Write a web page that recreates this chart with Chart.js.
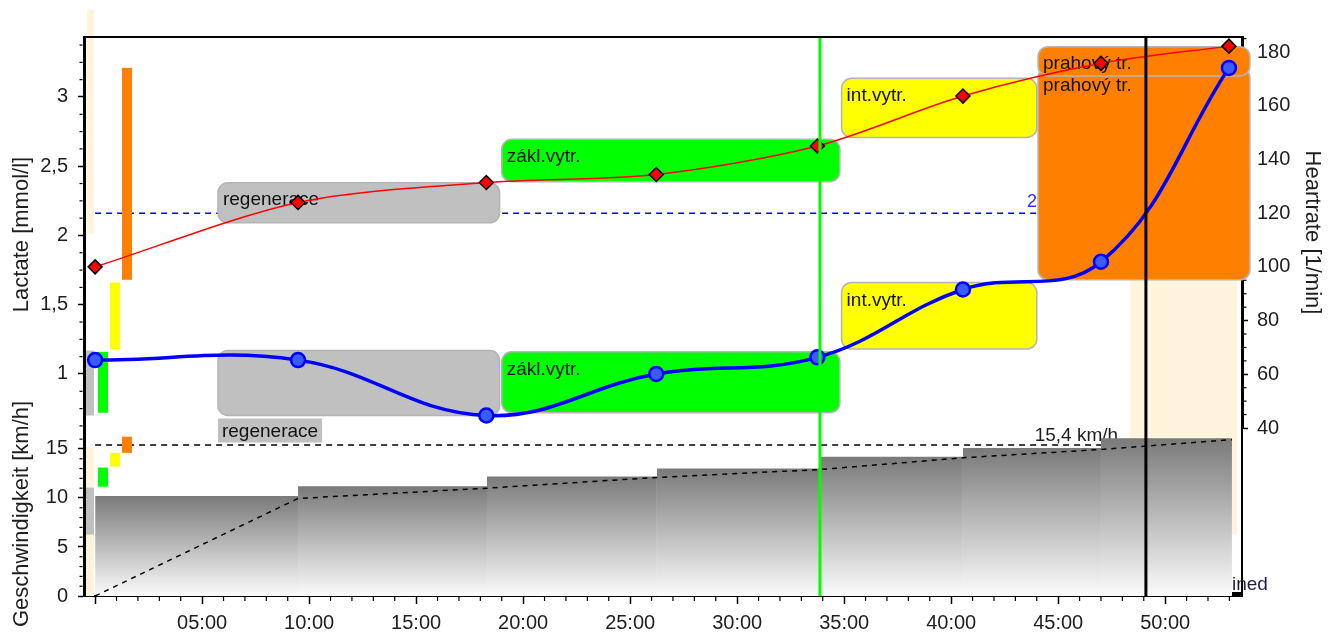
<!DOCTYPE html>
<html>
<head>
<meta charset="utf-8">
<script src="https://cdn.jsdelivr.net/npm/chart.js@4.4.1/dist/chart.umd.min.js"></script>
<style>
  html, body { margin: 0; padding: 0; background: #fff; }
</style>
</head>
<body>
<canvas id="chart" width="1333" height="637"></canvas>
<script>
// measurements (minutes)
const sampleMinutes = [0, 9.48, 18.28, 26.22, 33.75, 40.55, 47.0, 52.98];
const heartRate = [100, 124, 131.4, 134.4, 145, 163.6, 175.8, 182.2];
const lactate = [1.10, 1.10, 0.70, 1.0, 1.12, 1.61, 1.81, 3.21];

// speed steps
const stepFrom = [0, 9.48, 18.31, 26.25, 33.87, 40.55, 47.0];
const stepTo = [9.48, 18.31, 26.25, 33.87, 40.55, 47.0, 53.12];
const stepSpeed = [10.2, 11.2, 12.2, 13.0, 14.2, 15.1, 16.1];
const rampMinutes = [0, 9.48, 18.31, 26.25, 33.87, 40.55, 47.0, 53.12];
const rampSpeed = [0, 9.95, 11.0, 12.1, 12.9, 14.1, 14.95, 15.95];

// training zones
const zoneNames = ['regenerace', 'zákl.vytr.', 'int.vytr.', 'prahový tr.'];
const zoneColors = ['#c0c0c0', '#00ff00', '#ffff00', '#ff8000'];
const zoneFrom = [5.74, 19.0, 34.88, 44.06];
const zoneTo = [18.9, 34.8, 44.0, 53.96];
const hrZoneLow = [116.4, 131.7, 148.2, 171.1];
const hrZoneHigh = [131.3, 147.5, 170.2, 182.0];
const lacZoneLow = [0.70, 0.72, 1.18, 1.68];
const lacZoneHigh = [1.17, 1.16, 1.66, 3.21];
const speedZoneLow = [6.26, 11.15, 13.2, 14.6];
const speedZoneHigh = [11.05, 13.1, 14.6, 16.25];

// markers
const hrThreshold = 120;
const hrThresholdLabel = '2';
const speedThreshold = 15.4;
const speedThresholdLabel = '15,4 km/h';
const markerGreen = 33.87;
const markerBlack = 49.1;
const creamLactate = [2.01, 3.63];
const creamSpeed = [0, 15.2];
const creamMinutes = [48.36, 53.36];
const creamBandLactateTop = 1.7;
const creamSpeedFrom = 6.27;

const FONT = '"Liberation Sans", Arial, sans-serif';
Chart.defaults.font.family = FONT;
Chart.defaults.color = '#1e1e1e';

const fmtTime = v => v === 0 ? '' : String(v).padStart(2, '0') + ':00';
const fmtDec = v => String(v).replace('.', ',');

const stepSets = stepSpeed.map((v, i) => ({
  type: 'line',
  data: [{x: stepFrom[i], y: v}, {x: stepTo[i], y: v}],
  yAxisID: 'ySpeed',
  borderWidth: 0,
  borderColor: 'rgba(0,0,0,0)',
  pointRadius: 0,
  fill: 'origin',
  order: 3,
  backgroundColor: ctx => {
    const c = ctx.chart;
    if (!c.chartArea) return '#bbbbbb';
    const s = c.scales.ySpeed;
    const g = c.ctx.createLinearGradient(0, s.getPixelForValue(v), 0, s.getPixelForValue(0));
    g.addColorStop(0, '#7a7a7a');
    g.addColorStop(1, '#fbfbfb');
    return g;
  }
}));

function zoneBox(ctx, x1, x2, y1, y2, color) {
  ctx.beginPath();
  ctx.roundRect(x1, y1, x2 - x1, y2 - y1, 10);
  ctx.fillStyle = color;
  ctx.fill();
  ctx.strokeStyle = '#b4b4b4';
  ctx.lineWidth = 1.5;
  ctx.stroke();
}

function hLine(ctx, x1, x2, y, color, width, dash) {
  ctx.beginPath();
  ctx.setLineDash(dash || []);
  ctx.moveTo(x1, y);
  ctx.lineTo(x2, y);
  ctx.strokeStyle = color;
  ctx.lineWidth = width;
  ctx.stroke();
  ctx.setLineDash([]);
}

function vLine(ctx, x, y1, y2, color, width) {
  ctx.beginPath();
  ctx.moveTo(x, y1);
  ctx.lineTo(x, y2);
  ctx.strokeStyle = color;
  ctx.lineWidth = width;
  ctx.stroke();
}

const overlay = {
  id: 'overlay',
  beforeDatasetsDraw(chart) {
    const {ctx, chartArea: a, scales} = chart;
    const x = scales.x, lac = scales.yLac, hr = scales.yHR, sp = scales.ySpeed;
    ctx.save();

    // minor ticks
    ctx.strokeStyle = '#000';
    ctx.lineWidth = 1.2;
    for (let m = 0; m <= x.max; m++) {
      if (m % 5 === 0) continue;
      const px = x.getPixelForValue(m);
      ctx.beginPath(); ctx.moveTo(px, a.bottom + 1); ctx.lineTo(px, a.bottom + 5); ctx.stroke();
    }
    for (let v = 0.625; v < lac.max; v += 0.125) {
      if (Math.abs(v * 2 - Math.round(v * 2)) < 1e-6) continue;
      const py = lac.getPixelForValue(v);
      ctx.beginPath(); ctx.moveTo(a.left - 1.5, py); ctx.lineTo(a.left - 4.5, py); ctx.stroke();
    }
    for (let v = 1; v < sp.max; v++) {
      if (v % 5 === 0) continue;
      const py = sp.getPixelForValue(v);
      ctx.beginPath(); ctx.moveTo(a.left - 1.5, py); ctx.lineTo(a.left - 4.5, py); ctx.stroke();
    }
    for (let v = 45; v < hr.max; v += 5) {
      if (v % 20 === 0) continue;
      const py = hr.getPixelForValue(v);
      ctx.beginPath(); ctx.moveTo(a.right + 1.5, py); ctx.lineTo(a.right + 4.5, py); ctx.stroke();
    }

    // cream band on the right
    ctx.fillStyle = '#fff4dc';
    const cx1 = x.getPixelForValue(creamMinutes[0]), cx2 = x.getPixelForValue(creamMinutes[1]);
    const cy1 = lac.getPixelForValue(creamBandLactateTop);
    ctx.fillRect(cx1, cy1, cx2 - cx1, sp.getPixelForValue(creamSpeedFrom) - cy1);

    // threshold lines
    hLine(ctx, x.getPixelForValue(0), a.right, hr.getPixelForValue(hrThreshold), '#0000ff', 1.5, [6, 5]);
    hLine(ctx, x.getPixelForValue(0), x.getPixelForValue(stepTo[stepTo.length - 1]), sp.getPixelForValue(speedThreshold), '#000', 1.5, [6, 5]);

    ctx.font = '18px ' + FONT;
    ctx.fillStyle = '#3030ff';
    ctx.textAlign = 'right';
    ctx.textBaseline = 'alphabetic';
    ctx.fillText(hrThresholdLabel, x.getPixelForValue(zoneFrom[3]) - 1, hr.getPixelForValue(hrThreshold) - 6);
    ctx.font = '19px ' + FONT;
    ctx.fillStyle = '#1e1e1e';
    ctx.fillText(speedThresholdLabel, x.getPixelForValue(47.8), sp.getPixelForValue(speedThreshold) - 4);

    // lactate zone boxes
    ctx.font = '19px ' + FONT;
    ctx.textAlign = 'left';
    ctx.textBaseline = 'middle';
    for (let i = 0; i < zoneNames.length; i++) {
      const x1 = x.getPixelForValue(zoneFrom[i]), x2 = x.getPixelForValue(zoneTo[i]);
      const y1 = lac.getPixelForValue(lacZoneHigh[i]), y2 = lac.getPixelForValue(lacZoneLow[i]);
      zoneBox(ctx, x1, x2, y1, y2, zoneColors[i]);
      ctx.fillStyle = '#111';
      if (i === 0) {
        const w = ctx.measureText(zoneNames[i]).width + 8;
        ctx.fillStyle = zoneColors[i];
        ctx.fillRect(x1, y2 + 3, w, 24);
        ctx.fillStyle = '#111';
        ctx.fillText(zoneNames[i], x1 + 4, y2 + 16);
      } else {
        ctx.fillText(zoneNames[i], x1 + 5, y1 + 18);
      }
    }

    // heart rate zone boxes
    for (let i = 0; i < zoneNames.length; i++) {
      const x1 = x.getPixelForValue(zoneFrom[i]), x2 = x.getPixelForValue(zoneTo[i]);
      const y1 = hr.getPixelForValue(hrZoneHigh[i]), y2 = hr.getPixelForValue(hrZoneLow[i]);
      zoneBox(ctx, x1, x2, y1, y2, zoneColors[i]);
      ctx.fillStyle = '#111';
      ctx.fillText(zoneNames[i], x1 + 5, y1 + 17);
    }

    // zone bars next to the left axis
    const colX = i => a.left + 2 + 12 * i;
    ctx.fillStyle = '#fff4dc';
    let t1 = lac.getPixelForValue(creamLactate[1]), t2 = lac.getPixelForValue(creamLactate[0]);
    ctx.fillRect(colX(0) + 1, t1, 7, t2 - t1);
    t1 = sp.getPixelForValue(creamSpeed[1]); t2 = sp.getPixelForValue(creamSpeed[0]);
    ctx.fillRect(colX(0), t1, 8, t2 - t1);
    for (let i = 0; i < zoneNames.length; i++) {
      ctx.fillStyle = zoneColors[i];
      let y1 = lac.getPixelForValue(lacZoneHigh[i]), y2 = lac.getPixelForValue(lacZoneLow[i]);
      ctx.fillRect(colX(i), y1, i === 0 ? 8 : 10, y2 - y1);
      y1 = sp.getPixelForValue(speedZoneHigh[i]); y2 = sp.getPixelForValue(speedZoneLow[i]);
      ctx.fillRect(colX(i), y1, i === 0 ? 8 : 10, y2 - y1);
    }
    ctx.restore();
  },
  afterDatasetsDraw(chart) {
    const {ctx, chartArea: a, scales} = chart;
    const x = scales.x;
    ctx.save();
    vLine(ctx, x.getPixelForValue(markerGreen), a.top, a.bottom, '#00ff00', 3);
    vLine(ctx, x.getPixelForValue(markerBlack), a.top, a.bottom, '#000', 3);
    hLine(ctx, a.left, a.right, a.top, '#000', 2);
    ctx.fillStyle = '#000';
    ctx.fillRect(a.right - 10, a.bottom - 4, 10, 4);
    ctx.font = '19px ' + FONT;
    ctx.fillStyle = '#241a40';
    ctx.textAlign = 'left';
    ctx.textBaseline = 'alphabetic';
    ctx.fillText('ined', a.right - 10, a.bottom - 6);
    ctx.restore();
  }
};

new Chart(document.getElementById('chart'), {
  type: 'line',
  data: {
    datasets: [
      {
        label: 'Lactate',
        data: sampleMinutes.map((m, i) => ({x: m, y: lactate[i]})),
        yAxisID: 'yLac',
        borderColor: '#0000ff',
        borderWidth: 3.5,
        tension: 0.4,
        pointStyle: 'circle',
        pointRadius: 7,
        pointBackgroundColor: '#3a5cff',
        pointBorderColor: '#0000ff',
        pointBorderWidth: 2.5,
        order: 0
      },
      {
        label: 'Heartrate',
        data: sampleMinutes.map((m, i) => ({x: m, y: heartRate[i]})),
        yAxisID: 'yHR',
        borderColor: '#ff0000',
        borderWidth: 1.5,
        tension: 0.3,
        pointStyle: 'rectRot',
        pointRadius: 7,
        pointBackgroundColor: '#ff0000',
        pointBorderColor: '#000',
        pointBorderWidth: 1.5,
        order: 1
      },
      {
        label: 'Speed',
        data: rampMinutes.map((m, i) => ({x: m, y: rampSpeed[i]})),
        yAxisID: 'ySpeed',
        borderColor: '#000',
        borderWidth: 1.5,
        borderDash: [5, 5],
        pointRadius: 0,
        tension: 0,
        order: 2
      },
      ...stepSets
    ]
  },
  options: {
    responsive: false,
    animation: false,
    layout: { padding: { top: 37, left: 0, right: 0, bottom: 0 } },
    plugins: { legend: { display: false }, tooltip: { enabled: false } },
    scales: {
      x: {
        type: 'linear', min: -0.52, max: 53.59,
        ticks: { stepSize: 5, includeBounds: false, callback: fmtTime, font: { size: 20 }, padding: 7, maxRotation: 0 },
        grid: { drawOnChartArea: false, tickLength: 8, tickColor: '#000', tickWidth: 1.5 },
        border: { color: '#000', width: 2 },
        afterFit: s => { s.height = 41; }
      },
      ySpeed: {
        type: 'linear', position: 'left', stack: 'left', stackWeight: 164,
        min: 0, max: 16.73,
        ticks: { stepSize: 5, includeBounds: false, font: { size: 20 }, padding: 10 },
        grid: { drawOnChartArea: false, tickLength: 6, tickColor: '#000', tickWidth: 1.5 },
        border: { color: '#000', width: 3 },
        title: { display: true, text: 'Geschwindigkeit [km/h]', font: { size: 22 }, padding: { top: 9, bottom: 0 } },
        afterFit: s => { s.width = 84; }
      },
      yLac: {
        type: 'linear', position: 'left', stack: 'left', stackWeight: 395,
        min: 0.581, max: 3.433,
        ticks: { stepSize: 0.5, includeBounds: false, callback: fmtDec, font: { size: 20 }, padding: 10 },
        grid: { drawOnChartArea: false, tickLength: 6, tickColor: '#000', tickWidth: 1.5 },
        border: { color: '#000', width: 3 },
        title: { display: true, text: 'Lactate [mmol/l]', font: { size: 22 }, padding: { top: 9, bottom: 0 } },
        afterFit: s => { s.width = 84; }
      },
      yHR: {
        type: 'linear', position: 'right', stack: 'right', stackWeight: 391,
        min: 40, max: 185.6,
        ticks: { stepSize: 20, includeBounds: false, font: { size: 20 }, padding: 9 },
        grid: { drawOnChartArea: false, tickLength: 6, tickColor: '#000', tickWidth: 1.5 },
        border: { color: '#000', width: 3 },
        title: { display: true, text: 'Heartrate [1/min]', font: { size: 22 }, padding: { top: 8, bottom: 0 } },
        afterFit: s => { s.width = 91; }
      },
      yBase: {
        type: 'linear', position: 'right', stack: 'right', stackWeight: 168,
        min: 0, max: 1,
        ticks: { display: false },
        grid: { display: false },
        border: { color: '#000', width: 2 },
        afterFit: s => { s.width = 91; }
      }
    }
  },
  plugins: [overlay]
});
</script>
</body>
</html>
